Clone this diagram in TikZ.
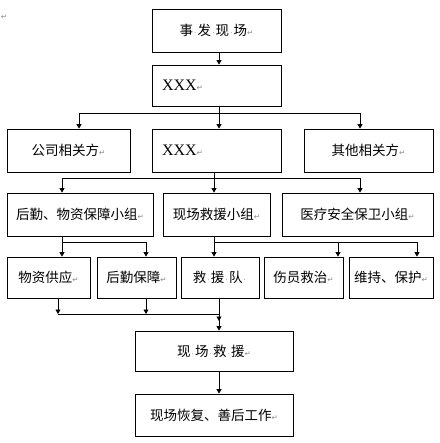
\documentclass[tikz,border=0pt]{standalone}
\usepackage{fontspec}
\setmainfont{Noto Sans CJK SC}
\newfontfamily\xfont{Liberation Serif}
\newfontfamily\markfont{DejaVu Sans}
\usetikzlibrary{arrows.meta,calc}
\definecolor{markgray}{HTML}{8C8C8C}
\newcommand\pmark{{\markfont\fontsize{7.5}{8}\selectfont\color{markgray}↵}}
\newcommand\sdot{{\markfont\fontsize{7}{8}\selectfont\color{markgray}\,·\,}}
\tikzset{
  >={Triangle[length=4.5pt,width=5pt]},
  % kaders
  box/.style={draw,line width=0.8pt,inner sep=0pt,font=\fontsize{13.5}{16}\selectfont},
  lbox/.style={box,align=left,text width=#1},
  % lijnen
  link/.style={draw,line width=0.8pt},
  arr/.style={->,draw,line width=0.8pt},
}
\begin{document}
\begin{tikzpicture}[x=1pt,y=-1pt,xxx/.style={font=\xfont\fontsize{16}{16}\selectfont}]
  \useasboundingbox (0,0) rectangle (439,443);
  \node[text=markgray] (mk) at (4,17) {\pmark};
  % niveau 1--2
  \node[box,minimum width=129pt,minimum height=43pt] (fasheng) at (216.5,30.5) {事\sdot 发\sdot 现\sdot 场\pmark};
  \node[lbox=109pt,minimum width=129pt,minimum height=41pt] (xxx1) at (216.5,85.5) {{\xfont\fontsize{16}{16}\selectfont XXX}\pmark};
  % niveau 3
  \node[box,minimum width=123pt,minimum height=43pt] (gongsi) at (68.5,150.5) {公司相关方\pmark};
  \node[lbox=109pt,minimum width=129pt,minimum height=43pt] (xxx2) at (216.5,150.5) {{\xfont\fontsize{16}{16}\selectfont XXX}\pmark};
  \node[box,minimum width=129pt,minimum height=43pt] (qita) at (368.5,150.5) {其他相关方\pmark};
  % niveau 4
  \node[box,minimum width=146pt,minimum height=43pt] (houqin) at (80,214.5) {后勤、物资保障小组\pmark};
  \node[box,minimum width=107pt,minimum height=43pt] (xianchang) at (216.5,214.5) {现场救援小组\pmark};
  \node[box,minimum width=151pt,minimum height=43pt] (yiliao) at (357.5,214.5) {医疗安全保卫小组\pmark};
  % niveau 5
  \node[box,minimum width=83pt,minimum height=41pt] (wuzi) at (48.5,277.5) {物资供应\pmark};
  \node[box,minimum width=79pt,minimum height=41pt] (baozhang) at (136.5,277.5) {后勤保障\pmark};
  \node[box,minimum width=78pt,minimum height=41pt] (jiuyuandui) at (220,277.5) {救\sdot 援\sdot 队\sdot};
  \node[box,minimum width=79pt,minimum height=41pt] (shangyuan) at (303.5,277.5) {伤员救治\pmark};
  \node[box,minimum width=84pt,minimum height=41pt] (weichi) at (391,277.5) {维持、保护\pmark};
  % niveau 6--7
  \node[box,minimum width=158pt,minimum height=40pt] (jiuyuan) at (214,351) {现\sdot 场\sdot 救\sdot 援\pmark};
  \node[box,minimum width=158pt,minimum height=42pt] (huifu) at (214,415) {现场恢复、善后工作\pmark};

  % verbindingen
  \coordinate (j1) at (219,113);
  \coordinate (j2) at (214,178);
  \coordinate (j3) at (62,242);
  \coordinate (j4) at (214,242);
  \coordinate (m1) at (58,314);
  \coordinate (m2) at (146,314);
  \coordinate (j5) at (219,314);
  \draw[arr] (fasheng.south -| j1) -- (xxx1.north -| j1);
  \draw[link] (xxx1.south -| j1) -- (j1);
  \draw[arr] (j1) -| ([xshift=10.5pt]gongsi.north);
  \draw[arr] (j1) -- (xxx2.north -| j1);
  \draw[arr] (j1) -| ([xshift=-8.5pt]qita.north);
  \draw[link] (xxx2.south -| j2) -- (j2);
  \draw[arr] (j2) -| ([xshift=-18pt]houqin.north);
  \draw[arr] (j2) -- (xianchang.north -| j2);
  \draw[arr] (j2) -| ([xshift=2.5pt]yiliao.north);
  \draw[link] (houqin.south -| j3) -- (j3);
  \draw[arr] (j3) -- (wuzi.north -| j3);
  \draw[arr] (j3) -| ([xshift=9.5pt]baozhang.north);
  \draw[link] (xianchang.south -| j4) -- (j4);
  \draw[arr] (j4) -- (jiuyuandui.north -| j4);
  \draw[arr] (j4) -| ([xshift=34.5pt]shangyuan.north);
  \draw[arr] (j4) -| ([xshift=26pt]weichi.north);
  \draw[arr] (wuzi.south -| m1) -- (m1);
  \draw[arr] (baozhang.south -| m2) -- (m2);
  \draw[link] (m1) -- (j5);
  \draw[arr] (jiuyuandui.south -| j5) -- ([yshift=-7pt]j5);
  \draw[arr] (j5) -- (jiuyuan.north -| j5);
  \draw[arr] (jiuyuan.south -| j5) -- (huifu.north -| j5);
\end{tikzpicture}
\end{document}
